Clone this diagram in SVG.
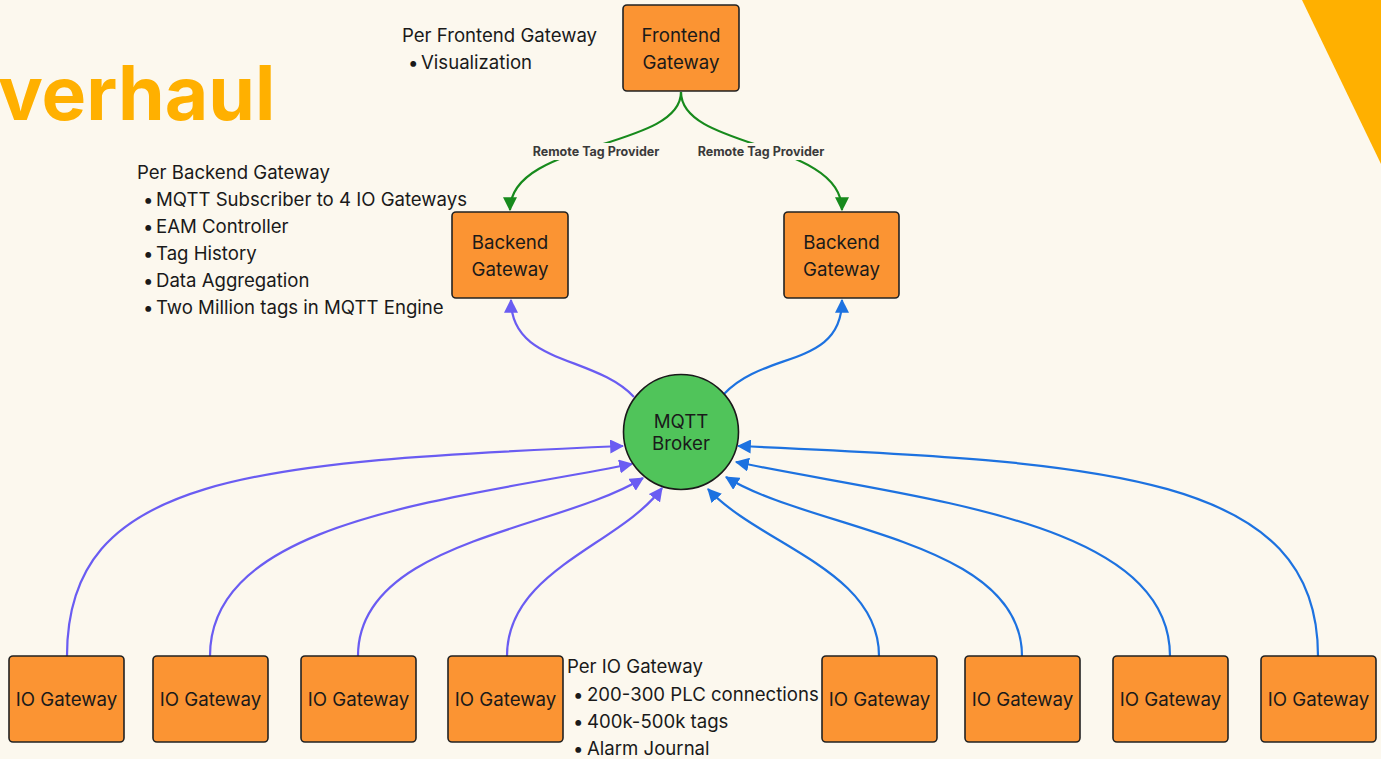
<svg xmlns="http://www.w3.org/2000/svg" width="1381" height="759" viewBox="0 0 1381 759">
  <style>
    .bg { fill: #FCF8EE; }
    .box { fill: #FB9433; stroke: #222; stroke-width: 1.6; }
    .broker { fill: #50C45A; stroke: #1a1a1a; stroke-width: 1.6; }
    .lbl { font-family: Inter, "Liberation Sans", sans-serif; font-size: 18.7px; fill: #1a1a1a; }
    .mid { text-anchor: middle; }
    .note { font-family: Inter, "Liberation Sans", sans-serif; font-size: 18.6px; fill: #1a1a1a; }
    .edge-lbl { font-family: Inter, "Liberation Sans", sans-serif; font-size: 12.5px; font-weight: 700; fill: #3a3a3a; text-anchor: middle; }
    .title { font-family: Inter, "Liberation Sans", sans-serif; font-size: 75px; font-weight: 700; fill: #FFB000; }
    .green { fill: none; stroke: #178A1C; stroke-width: 2.2; }
    .purple { fill: none; stroke: #6A5CF2; stroke-width: 2.2; }
    .blue { fill: none; stroke: #1D72E0; stroke-width: 2.2; }
  </style>
  <defs>
    <marker id="arrGreen" viewBox="0 0 12 12" refX="11" refY="6" markerWidth="14" markerHeight="14" markerUnits="userSpaceOnUse" orient="auto">
      <path d="M0,0 L12,6 L0,12 z" fill="#178A1C"/>
    </marker>
    <marker id="arrPurple" viewBox="0 0 12 12" refX="11" refY="6" markerWidth="14" markerHeight="14" markerUnits="userSpaceOnUse" orient="auto">
      <path d="M0,0 L12,6 L0,12 z" fill="#6A5CF2"/>
    </marker>
    <marker id="arrBlue" viewBox="0 0 12 12" refX="11" refY="6" markerWidth="14" markerHeight="14" markerUnits="userSpaceOnUse" orient="auto">
      <path d="M0,0 L12,6 L0,12 z" fill="#1D72E0"/>
    </marker>
  </defs>

  <rect class="bg" x="0" y="0" width="1381" height="759"/>

  <!-- slide decoration -->
  <g id="decor">
    <text class="title" x="-2" y="120">verhaul</text>
    <polygon points="1302,0 1381,0 1381,164" fill="#FFB000"/>
  </g>

  <!-- connectors -->
  <g id="connectors">
    <path class="green" d="M681,92 C681,150 510,140 510,210" marker-end="url(#arrGreen)"/>
    <path class="green" d="M681,92 C681,150 842,140 842,210" marker-end="url(#arrGreen)"/>
    <rect x="528" y="143" width="136" height="17" class="bg"/>
    <text class="edge-lbl" x="596" y="156">Remote Tag Provider</text>
    <rect x="693" y="143" width="136" height="17" class="bg"/>
    <text class="edge-lbl" x="761" y="156">Remote Tag Provider</text>

    <path class="purple" d="M634,397 C595,355 511,365 511,300" marker-end="url(#arrPurple)"/>
    <path class="blue" d="M724,394 C765,350 842,368 842,300" marker-end="url(#arrBlue)"/>

    <path class="purple" d="M67,656 C67,475 250,462 623,446" marker-end="url(#arrPurple)"/>
    <path class="purple" d="M210,656 C210,520 450,500 632,464" marker-end="url(#arrPurple)"/>
    <path class="purple" d="M358,656 C358,540 560,530 643,478" marker-end="url(#arrPurple)"/>
    <path class="purple" d="M507,656 C507,570 620,545 662,488" marker-end="url(#arrPurple)"/>

    <path class="blue" d="M879,656 C879,570 760,545 708,489" marker-end="url(#arrBlue)"/>
    <path class="blue" d="M1022,656 C1022,540 810,530 726,477" marker-end="url(#arrBlue)"/>
    <path class="blue" d="M1170,656 C1170,520 920,500 736,462" marker-end="url(#arrBlue)"/>
    <path class="blue" d="M1318,656 C1318,475 1110,462 738,446" marker-end="url(#arrBlue)"/>
  </g>

  <!-- frontend -->
  <g id="frontend-gateway">
    <rect class="box" x="623" y="5" width="116" height="86" rx="4"/>
    <text class="lbl mid" x="681" y="42">Frontend</text>
    <text class="lbl mid" x="681" y="69">Gateway</text>
  </g>
  <g id="frontend-notes">
    <text class="note" x="402" y="42">Per Frontend Gateway</text>
    <text class="note"><tspan x="408" y="69">•</tspan><tspan x="421" y="69">Visualization</tspan></text>
  </g>

  <!-- backends -->
  <g id="backend-gateway-1">
    <rect class="box" x="452" y="212" width="116" height="86" rx="4"/>
    <text class="lbl mid" x="510" y="249">Backend</text>
    <text class="lbl mid" x="510" y="276">Gateway</text>
  </g>
  <g id="backend-gateway-2">
    <rect class="box" x="784" y="212" width="115" height="86" rx="4"/>
    <text class="lbl mid" x="841.5" y="249">Backend</text>
    <text class="lbl mid" x="841.5" y="276">Gateway</text>
  </g>
  <g id="backend-notes">
    <text class="note" x="137" y="179">Per Backend Gateway</text>
    <text class="note"><tspan x="143" y="206">•</tspan><tspan x="156" y="206">MQTT Subscriber to 4 IO Gateways</tspan></text>
    <text class="note"><tspan x="143" y="233">•</tspan><tspan x="156" y="233">EAM Controller</tspan></text>
    <text class="note"><tspan x="143" y="260">•</tspan><tspan x="156" y="260">Tag History</tspan></text>
    <text class="note"><tspan x="143" y="287">•</tspan><tspan x="156" y="287">Data Aggregation</tspan></text>
    <text class="note"><tspan x="143" y="314">•</tspan><tspan x="156" y="314">Two Million tags in MQTT Engine</tspan></text>
  </g>

  <!-- broker -->
  <g id="mqtt-broker">
    <circle class="broker" cx="681" cy="432" r="57.5"/>
    <text class="lbl mid" x="681" y="428">MQTT</text>
    <text class="lbl mid" x="681" y="450">Broker</text>
  </g>

  <!-- IO gateways -->
  <g id="io-gateway-1"><rect class="box" x="9" y="656" width="115" height="86" rx="4"/><text class="lbl mid" x="66.5" y="706">IO Gateway</text></g>
  <g id="io-gateway-2"><rect class="box" x="153" y="656" width="115" height="86" rx="4"/><text class="lbl mid" x="210.5" y="706">IO Gateway</text></g>
  <g id="io-gateway-3"><rect class="box" x="301" y="656" width="115" height="86" rx="4"/><text class="lbl mid" x="358.5" y="706">IO Gateway</text></g>
  <g id="io-gateway-4"><rect class="box" x="448" y="656" width="115" height="86" rx="4"/><text class="lbl mid" x="505.5" y="706">IO Gateway</text></g>
  <g id="io-gateway-5"><rect class="box" x="822" y="656" width="115" height="86" rx="4"/><text class="lbl mid" x="879.5" y="706">IO Gateway</text></g>
  <g id="io-gateway-6"><rect class="box" x="965" y="656" width="115" height="86" rx="4"/><text class="lbl mid" x="1022.5" y="706">IO Gateway</text></g>
  <g id="io-gateway-7"><rect class="box" x="1113" y="656" width="115" height="86" rx="4"/><text class="lbl mid" x="1170.5" y="706">IO Gateway</text></g>
  <g id="io-gateway-8"><rect class="box" x="1261" y="656" width="115" height="86" rx="4"/><text class="lbl mid" x="1318.5" y="706">IO Gateway</text></g>

  <g id="io-notes">
    <text class="note" x="567" y="673">Per IO Gateway</text>
    <text class="note"><tspan x="573" y="701">•</tspan><tspan x="587" y="701">200-300 PLC connections</tspan></text>
    <text class="note"><tspan x="573" y="728">•</tspan><tspan x="587" y="728">400k-500k tags</tspan></text>
    <text class="note"><tspan x="573" y="755">•</tspan><tspan x="587" y="755">Alarm Journal</tspan></text>
  </g>
</svg>
